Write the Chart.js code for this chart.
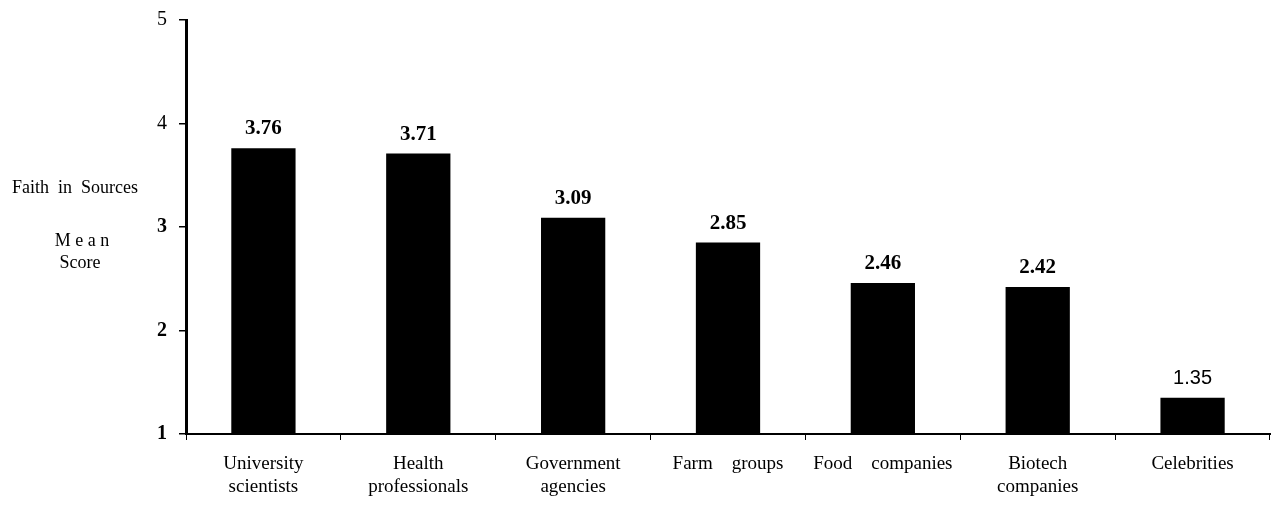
<!DOCTYPE html>
<html>
<head>
<meta charset="utf-8">
<script src="https://cdn.jsdelivr.net/npm/chart.js@4.4.0/dist/chart.umd.min.js"></script>
<style>
  html, body { margin: 0; padding: 0; background: #fff; }
  #wrap { width: 1273px; height: 505px; }
</style>
</head>
<body>
<div id="wrap"><canvas id="myChart"></canvas></div>
<script>
// data
const categories = [
  ['University', 'scientists'],
  ['Health', 'professionals'],
  ['Government', 'agencies'],
  'Farm    groups',
  'Food    companies',
  ['Biotech', 'companies'],
  'Celebrities'
];
const meanScores = [3.76, 3.71, 3.09, 2.85, 2.46, 2.42, 1.35];
const scoreLabels = ['3.76', '3.71', '3.09', '2.85', '2.46', '2.42', '1.35'];
const yTicks = [1, 2, 3, 4, 5];

const serif = '"Liberation Serif", "DejaVu Serif", serif';
const sans = '"Liberation Sans", Arial, sans-serif';

// numbers above the bars + the y title on the left
const extraText = {
  id: 'extraText',
  afterDatasetsDraw(chart) {
    const ctx = chart.ctx;
    const meta = chart.getDatasetMeta(0);
    ctx.save();
    ctx.fillStyle = '#000';
    ctx.textAlign = 'center';
    ctx.textBaseline = 'alphabetic';
    meta.data.forEach(function (bar, i) {
      // last label is set in a plain sans face in the original
      ctx.font = i === 6 ? '20px ' + sans : 'bold 21px ' + serif;
      ctx.fillText(scoreLabels[i], bar.x, bar.y - 14);
    });
    ctx.font = '18px ' + serif;
    ctx.textBaseline = 'middle';
    ctx.fillText('Faith  in  Sources', 75, 188);
    ctx.fillText('M e a n', 82, 241);
    ctx.fillText('Score', 80, 263);
    ctx.restore();
  }
};

var ctx = document.getElementById('myChart').getContext('2d');
var chart = new Chart(ctx, { // eslint-disable-line
  type: 'bar',
  data: {
    labels: categories,
    datasets: [{
      label: 'Mean Score',
      backgroundColor: '#000',
      borderColor: '#000',
      data: meanScores,
      categoryPercentage: 1,
      barPercentage: 0.415
    }]
  },
  plugins: [extraText],
  options: {
    responsive: true,
    maintainAspectRatio: false,
    animation: false,
    layout: { padding: { top: 20, right: 3, left: 0, bottom: 0 } },
    plugins: {
      legend: { display: false },
      tooltip: { enabled: false }
    },
    scales: {
      x: {
        border: { display: true, color: '#000', width: 2 },
        grid: {
          display: true,
          drawOnChartArea: false,
          drawTicks: true,
          tickLength: 6,
          color: '#000',
          lineWidth: 1,
          offset: true
        },
        ticks: {
          color: '#000',
          font: { family: serif, size: 19, lineHeight: 1.2 },
          padding: 13,
          maxRotation: 0,
          autoSkip: false
        },
        afterFit: function (scale) { scale.height = 71; }
      },
      y: {
        min: 1,
        max: 5,
        afterBuildTicks: function (scale) {
          scale.ticks = yTicks.map(function (v) { return { value: v }; });
        },
        border: { display: true, color: '#000', width: 3 },
        grid: {
          display: true,
          drawOnChartArea: false,
          drawTicks: true,
          tickLength: 7,
          color: '#000',
          lineWidth: 1.5
        },
        ticks: {
          color: '#000',
          font: function (c) {
            const v = c.tick ? c.tick.value : 0;
            const bold = v === 2 || v === 3 || v === 1;
            return { family: serif, size: 20, weight: bold ? 'bold' : 'normal' };
          },
          padding: 12
        },
        afterFit: function (scale) {
          scale.width = 186;
          scale.paddingTop = 0;
          scale.paddingBottom = 0;
        }
      }
    }
  }
});
</script>
</body>
</html>
